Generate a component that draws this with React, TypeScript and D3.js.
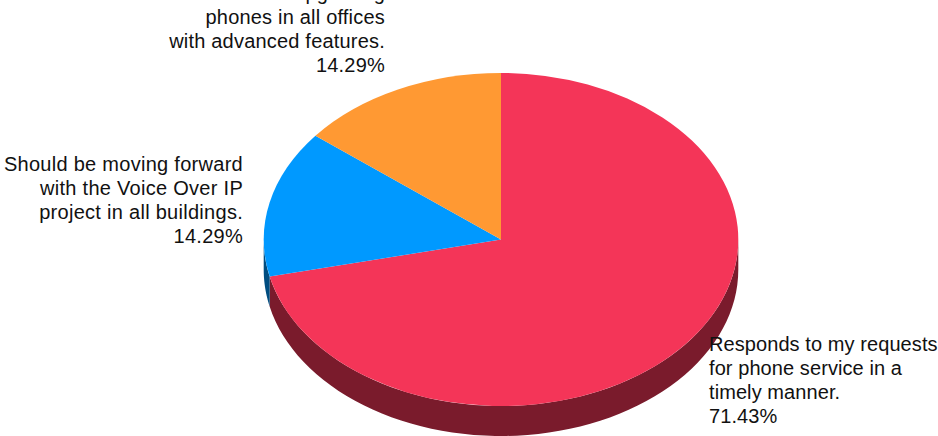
import React from "react";
import * as d3 from "d3";

const categories = ["Responds", "VoiceOverIP", "Phones"];
const shares = [71.43, 14.29, 14.29];
const faceColors = ["#F43558", "#0099FF", "#FF9933"];
const sideColors = ["#7A1B2C", "#004D80", "#804D1A"];
const labelLines = [
  ["Responds to my requests", "for phone service in a", "timely manner.", "71.43%"],
  ["Should be moving forward", "with the Voice Over IP", "project in all buildings.", "14.29%"],
  ["Should be upgrading", "phones in all offices", "with advanced features.", "14.29%"],
];
const labelAnchors: [number, number, string, number][] = [
  [709, 351, "start", 0.08],
  [243, 171, "end", 0.28],
  [385, 0, "end", 0.2],
];

const WIDTH = 938;
const HEIGHT = 436;
const CX = 501;
const CY = 239.5;
const RX = 237.3;
const RY = 166.5;
const DEPTH = 30;
const LINE_HEIGHT = 24;

const slices = d3
  .pie<number>()
  .sort(null)
  .value((d) => d)(shares);

const faceArc = d3
  .arc<d3.PieArcDatum<number>>()
  .innerRadius(0)
  .outerRadius(RX);

// Outline of the extruded rim for the part of a slice on the front half of the ellipse.
function sidePath(start: number, end: number): string | null {
  const a0 = Math.max(start, Math.PI / 2);
  const a1 = Math.min(end, (3 * Math.PI) / 2);
  if (a1 <= a0) return null;
  const px = (a: number) => RX * Math.sin(a);
  const py = (a: number) => -RY * Math.cos(a);
  const steps = d3.range(0, 65).map((i) => a0 + ((a1 - a0) * i) / 64);
  const top = steps.map((a) => [px(a), py(a)] as [number, number]);
  const bottom = steps
    .slice()
    .reverse()
    .map((a) => [px(a), py(a) + DEPTH] as [number, number]);
  return d3.line()([...top, ...bottom]) + "Z";
}

export default function App() {
  return (
    <svg
      width={WIDTH}
      height={HEIGHT}
      viewBox={`0 0 ${WIDTH} ${HEIGHT}`}
      style={{ position: "absolute", left: 0, top: 0, background: "#fff" }}
    >
      <g transform={`translate(${CX},${CY})`}>
        {slices.map((s, i) => {
          const d = sidePath(s.startAngle, s.endAngle);
          return d ? <path key={categories[i]} d={d} fill={sideColors[i]} /> : null;
        })}
        <g transform={`scale(1,${RY / RX})`}>
          {slices.map((s, i) => (
            <path key={categories[i]} d={faceArc(s) ?? ""} fill={faceColors[i]} />
          ))}
        </g>
      </g>
      <g fontFamily="'Liberation Sans', Arial, sans-serif" fontSize={20} fill="#111">
        {labelLines.map((lines, i) => (
          <text key={categories[i]} textAnchor={labelAnchors[i][2]} letterSpacing={labelAnchors[i][3]}>
            {lines.map((line, j) => (
              <tspan key={j} x={labelAnchors[i][0]} y={labelAnchors[i][1] + j * LINE_HEIGHT}>
                {line}
              </tspan>
            ))}
          </text>
        ))}
      </g>
    </svg>
  );
}
